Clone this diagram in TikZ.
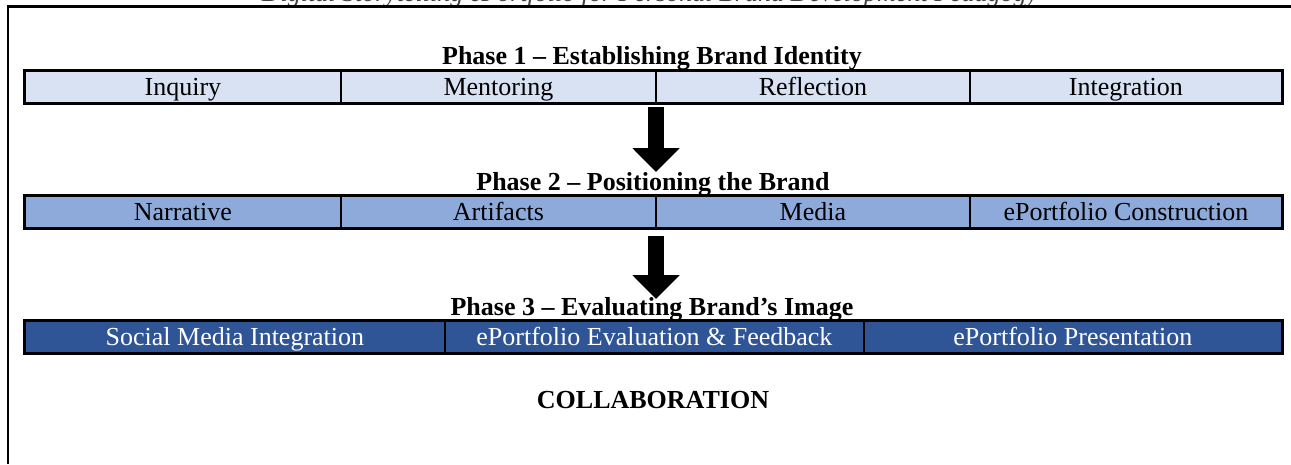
\documentclass[tikz,border=0pt]{standalone}
\usepackage{fontspec}
\setmainfont{Liberation Serif}
\usetikzlibrary{arrows.meta}
\definecolor{paleblue}{HTML}{D9E2F3}
\definecolor{midblue}{HTML}{8EAADB}
\definecolor{deepblue}{HTML}{2F5597}

\begin{document}
\begin{tikzpicture}[x=1pt,y=-1pt,
  bodyfont/.style={font=\fontsize{26}{30}\selectfont},
  cell/.style={draw=black, line width=1.8pt, anchor=north west, inner sep=0pt,
    minimum height=32pt, text height=20pt, text depth=3pt, bodyfont},
  rowframe/.style={draw=black, line width=2.6pt},
  phasetitle/.style={anchor=base, font=\bfseries\fontsize{26}{30}\selectfont},
  bigarrow/.style={line width=16pt, -{Triangle[length=24pt,width=46pt]}},
  frameline/.style={line width=2.5pt}
]
\useasboundingbox (0,0) rectangle (1291,464);

% caption line above the frame (only its lower edge shows)
\begin{scope}
  \clip (0,0) rectangle (1291,6);
  \node[anchor=base, font=\itshape\fontsize{26}{30}\selectfont, inner sep=0pt, text=black!75]
    (caption) at (650,1) {Digital Storytelling ePortfolio for Personal Brand Development Pedagogy};
\end{scope}

% enclosing frame (top and left edges)
\coordinate (frameTR) at (1291,6.5);
\coordinate (frameTL) at (8,6.5);
\coordinate (frameBL) at (8,464);
\draw[frameline] (frameTR) -- (frameTL) -- (frameBL);

% Phase 1
\node[phasetitle] (p1) at (652,64) {Phase 1 – Establishing Brand Identity};
\node[cell, fill=paleblue, minimum width=316pt] (r1a) at (24,70)  {Inquiry};
\node[cell, fill=paleblue, minimum width=315pt] (r1b) at (340,70) {Mentoring};
\node[cell, fill=paleblue, minimum width=314pt] (r1c) at (655,70) {Reflection};
\node[cell, fill=paleblue, minimum width=312pt] (r1d) at (969,70) {Integration};
\draw[rowframe] (r1a.north west) rectangle (r1d.south east);

% Phase 2
\node[phasetitle] (p2) at (653,190) {Phase 2 – Positioning the Brand};
\node[cell, fill=midblue, minimum width=316pt] (r2a) at (24,195)  {Narrative};
\node[cell, fill=midblue, minimum width=315pt] (r2b) at (340,195) {Artifacts};
\node[cell, fill=midblue, minimum width=314pt] (r2c) at (655,195) {Media};
\node[cell, fill=midblue, minimum width=312pt] (r2d) at (969,195) {ePortfolio Construction};
\draw[rowframe] (r2a.north west) rectangle (r2d.south east);

% Phase 3
\node[phasetitle] (p3) at (652,315) {Phase 3 – Evaluating Brand’s Image};
\node[cell, fill=deepblue, text=white, minimum width=420pt] (r3a) at (24,320)  {Social Media Integration};
\node[cell, fill=deepblue, text=white, minimum width=419pt] (r3b) at (444,320) {ePortfolio Evaluation \& Feedback};
\node[cell, fill=deepblue, text=white, minimum width=418pt] (r3c) at (863,320) {ePortfolio Presentation};
\draw[rowframe] (r3a.north west) rectangle (r3c.south east);

% closing label
\node[phasetitle] (collab) at (653,408) {COLLABORATION};

% arrows between phases
\coordinate (arrowAfrom) at (656,107);
\coordinate (arrowAto)   at (656,172);
\coordinate (arrowBfrom) at (656,236);
\coordinate (arrowBto)   at (656,299);
\draw[bigarrow] (arrowAfrom) -- (arrowAto);
\draw[bigarrow] (arrowBfrom) -- (arrowBto);
\end{tikzpicture}
\end{document}
